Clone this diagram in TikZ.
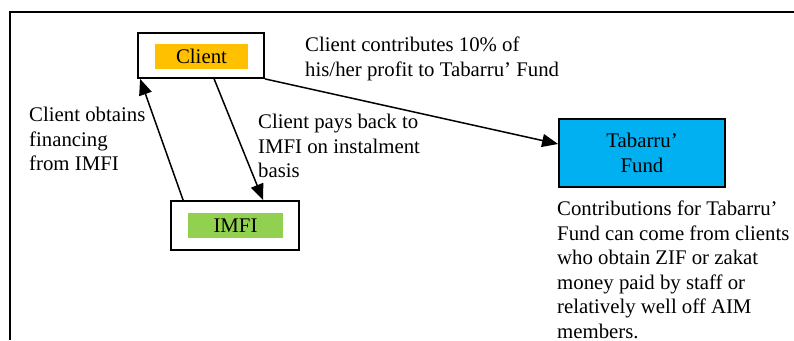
\documentclass[tikz,border=0pt]{standalone}
\usepackage{fontspec}
\setmainfont{Liberation Serif}
\usetikzlibrary{arrows.meta}

\definecolor{clientorange}{HTML}{FFC000}
\definecolor{imfigreen}{HTML}{92D050}
\definecolor{fundblue}{HTML}{00B0F0}

\tikzset{
  outerbox/.style={draw, line width=1.8pt, fill=white, minimum width=#1, inner sep=0pt},
  tagbox/.style={fill=#1, inner sep=0pt, minimum height=25pt},
  note/.style={align=left, inner sep=0pt, anchor=north west, font=\fontsize{20.8}{24.5}\selectfont},
  flow/.style={line width=1.5pt, -{Triangle[length=16pt,width=13pt]}}
}

\begin{document}
\begin{tikzpicture}[x=1pt,y=-1pt, font=\fontsize{20.8}{24.5}\selectfont]
      \useasboundingbox (0,0) rectangle (794,340);
      \draw[line width=1.8pt] (10,340) -- (10,12) -- (794,12);
      % boxes
      \node[outerbox=126pt, minimum height=45pt] (client) at (201,55.5) {};
      \node[tagbox=clientorange, minimum width=93pt] (clienttag) at (201.5,56) {Client};
      \node[outerbox=128pt, minimum height=49pt] (imfi) at (235,225.5) {};
      \node[tagbox=imfigreen, minimum width=95pt] (imfitag) at (235.5,225.5) {IMFI};
      \node[outerbox=166pt, minimum height=68pt, fill=fundblue, align=center] (fund) at (642,153) {Tabarru'\\Fund};
      % arrows
      \draw[flow] ([xshift=13pt]imfi.north west) -- ([xshift=3pt]client.south west);
      \draw[flow] ([xshift=77pt]client.south west) -- ([xshift=93pt]imfi.north west);
      \draw[flow] (client.south east) -- ([yshift=9pt]fund.west);
      % labels
      \node[note] (contrib) at (305,37) {Client contributes 10\% of\\his/her profit to Tabarru' Fund};
      \node[note] (obtain) at (29,107) {Client obtains\\financing\\from IMFI};
      \node[note] (payback) at (258,114) {Client pays back to\\IMFI on instalment\\basis};
      \node[note] (sources) at (557,201) {Contributions for Tabarru'\\Fund can come from clients\\who obtain ZIF or zakat\\money paid by staff or\\relatively well off AIM\\members.};
\end{tikzpicture}
\end{document}
